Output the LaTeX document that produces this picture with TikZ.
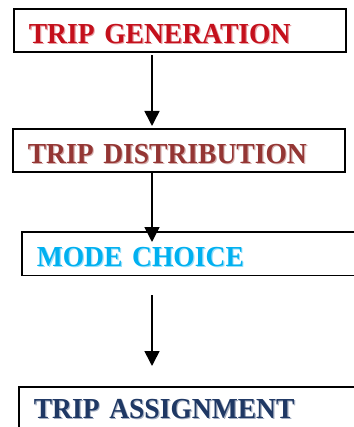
\documentclass[tikz,border=0pt]{standalone}
\usepackage{fontspec}
\setmainfont{Liberation Serif}[FakeStretch=0.95]
\usetikzlibrary{arrows.meta}

\definecolor{gencol}{RGB}{196,16,28}
\definecolor{distcol}{RGB}{148,54,52}
\definecolor{modecol}{RGB}{0,176,240}
\definecolor{assigncol}{RGB}{31,56,100}

% letters with a light copy set just behind them
\newcommand{\shadowtxt}[2]{%
  \makebox[0pt][l]{\hspace{1.2pt}\raisebox{-1.2pt}{\color{#1!40}#2}}\textcolor{#1}{#2}}

\begin{document}
\begin{tikzpicture}[
    x=1pt, y=1pt,
    stage/.style={draw, line width=1.6pt, rectangle, anchor=north west,
        minimum height=43.5pt, text width=302pt, inner xsep=15pt, inner ysep=2pt,
        align=left, text height=26pt, text depth=0pt,
        font=\bfseries\fontsize{29}{31}\selectfont},
    flow/.style={line width=1.6pt, -{Triangle[length=15pt,width=15pt]}}
]
    \useasboundingbox (0,0) rectangle (353,-427);

    % Stages
    \node[stage] (gen) at (13,-8) {\shadowtxt{gencol}{TRIP GENERATION}};
    \node[stage] (dist) at (12,-128) {\shadowtxt{distcol}{TRIP DISTRIBUTION}};
    \node[stage, text width=312pt] (mode) at (21,-231) {\shadowtxt{modecol}{MODE CHOICE}};
    \node[stage, text width=312pt, text height=19pt] (assign) at (18,-386) {\shadowtxt{assigncol}{TRIP ASSIGNMENT}};

    % Arrows
    \coordinate (col) at (152,0);
    \draw[flow] ([yshift=-2pt]gen.south -| col) -- ([yshift=2pt]dist.north -| col);
    \draw[flow] ([yshift=2pt]dist.south -| col) -- ([yshift=-11pt]mode.north -| col);
    \draw[flow] ([yshift=-19pt]mode.south -| col) -- ([yshift=20pt]assign.north -| col);

\end{tikzpicture}
\end{document}
